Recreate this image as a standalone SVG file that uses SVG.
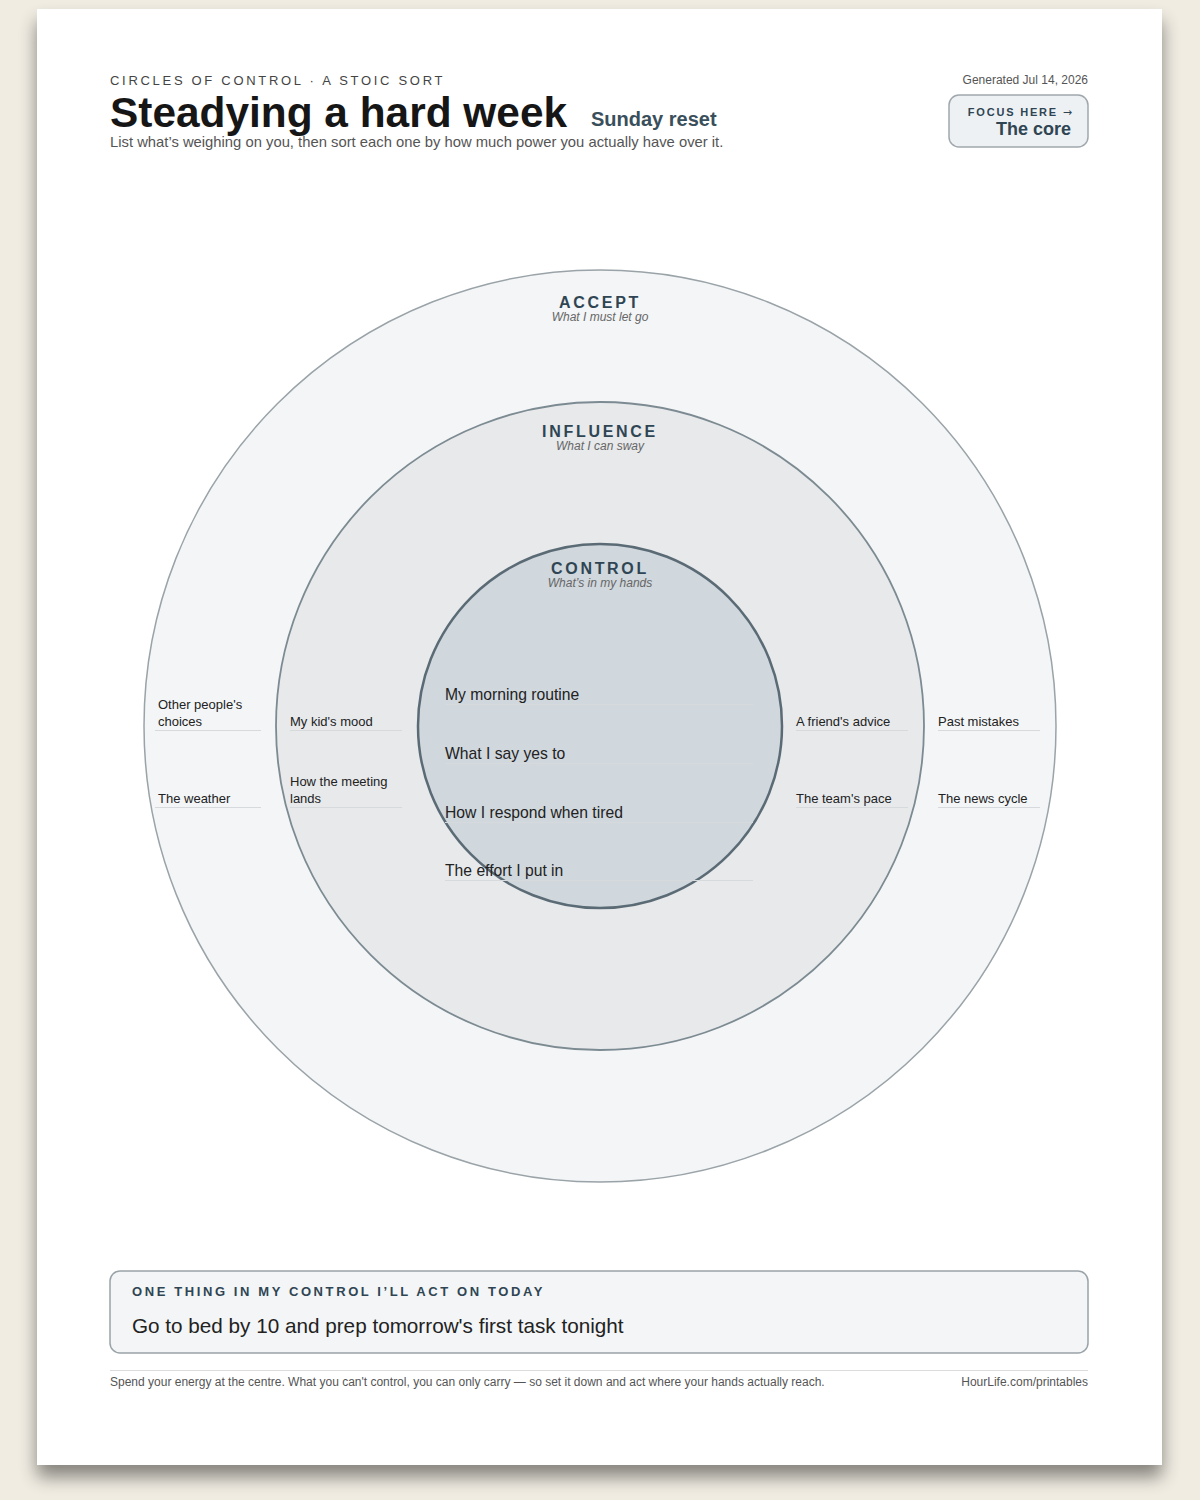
<svg xmlns="http://www.w3.org/2000/svg" width="1200" height="1500" viewBox="0 0 1200 1500">
<defs>
<filter id="shadow" x="-10%" y="-10%" width="120%" height="120%">
<feGaussianBlur in="SourceAlpha" stdDeviation="9"/>
<feOffset dx="0" dy="12" result="b"/>
<feComponentTransfer><feFuncA type="linear" slope="0.45"/></feComponentTransfer>
<feMerge><feMergeNode/><feMergeNode in="SourceGraphic"/></feMerge>
</filter>
</defs>
<style>
text{font-family:"Liberation Sans",Arial,sans-serif}
.item{font-size:13px;fill:#222}
.core{font-size:15.7px;fill:#222}
.rule{stroke:#d6dadd;stroke-width:1}
.ring{font-size:16px;font-weight:bold;fill:#2f4553;letter-spacing:2.7px;text-anchor:middle}
.sub{font-size:12px;font-style:italic;fill:#666;text-anchor:middle}
</style>
<rect width="1200" height="1500" fill="#f0ece2"/>
<rect x="37" y="9" width="1125" height="1456" fill="#ffffff" filter="url(#shadow)"/>

<g id="header">
<text x="110" y="85" font-size="13" fill="#444" letter-spacing="2.7">CIRCLES OF CONTROL · A STOIC SORT</text>
<text x="110" y="127" font-size="42.4" font-weight="bold" fill="#161616">Steadying a hard week</text>
<text x="591" y="126" font-size="20" font-weight="bold" fill="#3a4f5c">Sunday reset</text>
<text x="110" y="147" font-size="14.8" fill="#555">List what’s weighing on you, then sort each one by how much power you actually have over it.</text>
<text x="1088" y="84" font-size="12" fill="#555" text-anchor="end">Generated Jul 14, 2026</text>
</g>

<g id="focus">
<rect x="949" y="95" width="139" height="52" rx="10" fill="#eef1f3" stroke="#a0a8ad" stroke-width="1.5"/>
<text x="1072" y="116" font-size="11" font-weight="bold" fill="#2f4553" letter-spacing="1.8" text-anchor="end">FOCUS HERE <tspan font-family="'DejaVu Sans',sans-serif" font-weight="normal" letter-spacing="0">→</tspan></text>
<text x="1071" y="135" font-size="18" font-weight="bold" fill="#2f4553" text-anchor="end">The core</text>
</g>

<g id="accept">
<circle cx="600" cy="726" r="456" fill="#f3f5f6" stroke="#9aa3a8" stroke-width="1.5"/>
<text class="ring" x="600" y="308">ACCEPT</text>
<text class="sub" x="600" y="321">What I must let go</text>
</g>
<g id="influence">
<circle cx="600" cy="726" r="324" fill="#e7e9eb" stroke="#7c8a92" stroke-width="1.8"/>
<text class="ring" x="600" y="437">INFLUENCE</text>
<text class="sub" x="600" y="450">What I can sway</text>
</g>
<g id="control">
<circle cx="600" cy="726" r="182" fill="#d0d7dd" stroke="#5b6b75" stroke-width="2.5"/>
<text class="ring" x="600" y="574">CONTROL</text>
<text class="sub" x="600" y="587">What’s in my hands</text>
</g>

<g id="items-accept-left">
<text class="item" x="158" y="709">Other people's</text>
<text class="item" x="158" y="726">choices</text>
<line class="rule" x1="155" y1="730.5" x2="261" y2="730.5"/>
<text class="item" x="158" y="803">The weather</text>
<line class="rule" x1="155" y1="807.5" x2="261" y2="807.5"/>
</g>
<g id="items-influence-left">
<text class="item" x="290" y="726">My kid's mood</text>
<line class="rule" x1="290" y1="730.5" x2="402" y2="730.5"/>
<text class="item" x="290" y="786">How the meeting</text>
<text class="item" x="290" y="803">lands</text>
<line class="rule" x1="290" y1="807.5" x2="402" y2="807.5"/>
</g>
<g id="items-control">
<text class="core" x="445" y="700">My morning routine</text>
<line class="rule" x1="445" y1="704.5" x2="753" y2="704.5"/>
<text class="core" x="445" y="759">What I say yes to</text>
<line class="rule" x1="445" y1="763.5" x2="753" y2="763.5"/>
<text class="core" x="445" y="818">How I respond when tired</text>
<line class="rule" x1="445" y1="822.5" x2="753" y2="822.5"/>
<text class="core" x="445" y="876">The effort I put in</text>
<line class="rule" x1="445" y1="880.5" x2="753" y2="880.5"/>
</g>
<g id="items-influence-right">
<text class="item" x="796" y="726">A friend's advice</text>
<line class="rule" x1="796" y1="730.5" x2="908" y2="730.5"/>
<text class="item" x="796" y="803">The team's pace</text>
<line class="rule" x1="796" y1="807.5" x2="908" y2="807.5"/>
</g>
<g id="items-accept-right">
<text class="item" x="938" y="726">Past mistakes</text>
<line class="rule" x1="938" y1="730.5" x2="1040" y2="730.5"/>
<text class="item" x="938" y="803">The news cycle</text>
<line class="rule" x1="938" y1="807.5" x2="1040" y2="807.5"/>
</g>

<g id="action">
<rect x="110" y="1271" width="978" height="82" rx="10" fill="#f3f5f6" stroke="#9aa3a8" stroke-width="1.5"/>
<text x="132" y="1296" font-size="13" font-weight="bold" fill="#2f4553" letter-spacing="2.6">ONE THING IN MY CONTROL I’LL ACT ON TODAY</text>
<text x="132" y="1333" font-size="20.7" fill="#222">Go to bed by 10 and prep tomorrow's first task tonight</text>
</g>

<g id="footer">
<line x1="110" y1="1370.5" x2="1088" y2="1370.5" stroke="#dcdcdc" stroke-width="1"/>
<text x="110" y="1386" font-size="12" fill="#555">Spend your energy at the centre. What you can't control, you can only carry — so set it down and act where your hands actually reach.</text>
<text x="1088" y="1386" font-size="12" fill="#555" text-anchor="end">HourLife.com/printables</text>
</g>
</svg>
